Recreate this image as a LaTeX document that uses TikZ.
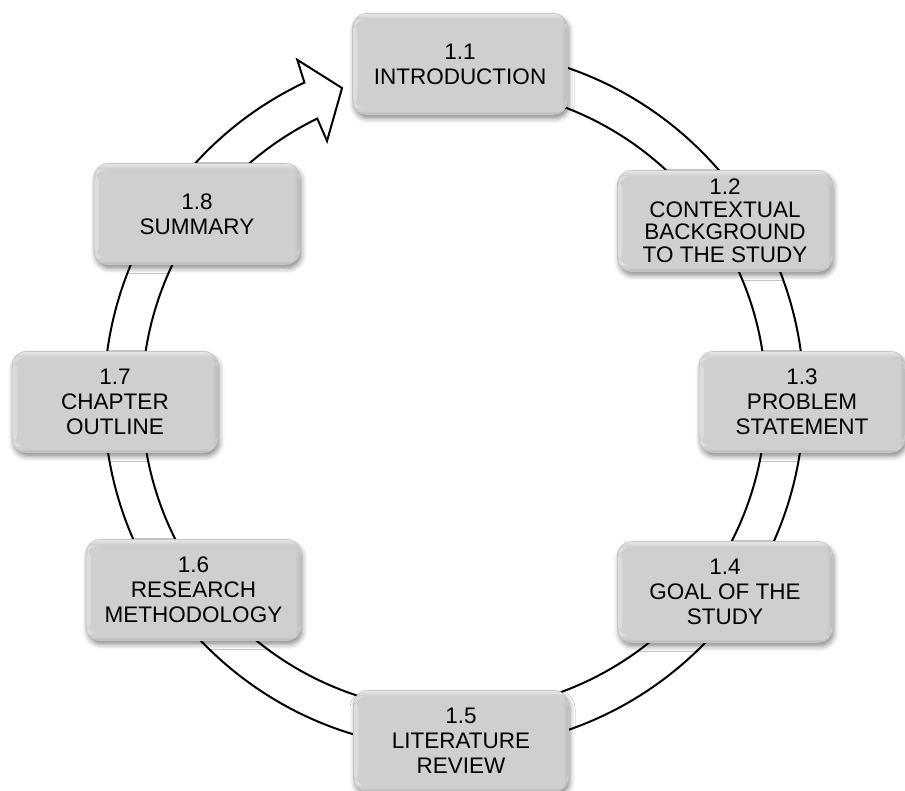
\documentclass[tikz,border=0pt]{standalone}
\usepackage{fontspec}
\setmainfont{Liberation Sans}
\usetikzlibrary{calc,shadows.blur}
\definecolor{boxtop}{HTML}{E8E8E8}
\definecolor{boxmid}{HTML}{CFCFCF}
\definecolor{boxbot}{HTML}{B2B2B2}
\definecolor{boxleft}{HTML}{DCDCDC}
\definecolor{boxright}{HTML}{B8B8B8}
\definecolor{boxedge}{HTML}{C4C4C4}
% flat face with a thin light top rim and a darker bottom rim
\pgfdeclareverticalshading{bevelface}{100bp}{%
  color(0bp)=(boxbot); color(25bp)=(boxbot); color(26.8bp)=(boxmid);
  color(72.5bp)=(boxmid); color(75bp)=(boxtop); color(100bp)=(boxtop)}
\begin{document}
\begin{tikzpicture}[x=1pt,y=1pt,
  stage/.style={rounded corners=14pt, minimum width=215pt, minimum height=101pt,
    inner sep=0pt, align=center, font=\fontsize{22.5}{25}\selectfont, text=black,
    shading=bevelface, draw=boxedge, line width=0.6pt,
    path picture={
      \shade[left color=boxleft, right color=boxmid]
        ([yshift=6pt]path picture bounding box.south west) rectangle
        ([xshift=5pt,yshift=-6pt]path picture bounding box.north west);
      \shade[left color=boxmid, right color=boxright]
        ([xshift=-6pt,yshift=6pt]path picture bounding box.south east) rectangle
        ([yshift=-6pt]path picture bounding box.north east);
    },
    blur shadow={shadow xshift=1.5pt, shadow yshift=-4pt, shadow blur radius=5pt, shadow opacity=45}},
  narrow/.style={minimum width=206pt},
  ringarrow/.style={draw=black, fill=white, line width=2pt, line join=miter}]
\useasboundingbox (0,0) rectangle (905,791);
\coordinate (C) at (454,392);
% circular block arrow: tail hidden under the first stage, head pointing back to it
\draw[ringarrow]
  ($(C)+(88:350)$) arc[start angle=88, end angle=-244.7, radius=350]
  -- ($(C)+(-245.2:373.6)$)
  -- ($(C)+(-250.2:330.5)$)
  -- ($(C)+(-243.8:287.6)$)
  -- ($(C)+(-244:312)$)
  arc[start angle=-244, end angle=88, radius=312] -- cycle;
% stages
\node[stage] (s11) at (460,727) {1.1\\INTRODUCTION};
\node[stage, font=\fontsize{22.5}{22.5}\selectfont] (s12) at (725,570) {1.2\\CONTEXTUAL\\BACKGROUND\\TO THE STUDY};
\node[stage, narrow] (s13) at (802,389) {1.3\\PROBLEM\\STATEMENT};
\node[stage] (s14) at (725,199) {1.4\\GOAL OF THE\\STUDY};
\node[stage] (s15) at (461,50) {1.5\\LITERATURE\\REVIEW};
\node[stage] (s16) at (193.5,201) {1.6\\RESEARCH\\METHODOLOGY};
\node[stage, narrow] (s17) at (115,389) {1.7\\CHAPTER\\OUTLINE};
\node[stage, narrow] (s18) at (197,577) {1.8\\SUMMARY};
\end{tikzpicture}
\end{document}
